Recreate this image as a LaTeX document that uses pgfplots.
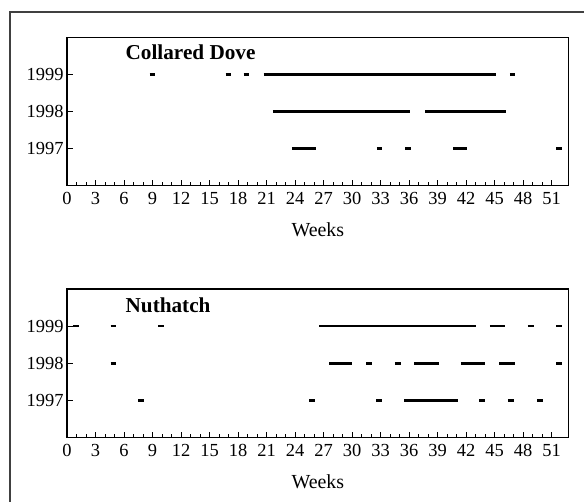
\documentclass[border=0pt]{standalone}
\usepackage{pgfplots}
\pgfplotsset{compat=1.18}
\usepackage{fontspec}
\setmainfont{Liberation Serif}

% one axis per species, weeks across, years up
\pgfplotsset{
  birdaxis/.style={
    scale only axis, width=501.7bp, height=148.5bp,
    xmin=0, xmax=52.8, ymin=1996, ymax=2000,
    xtick={0,3,...,51}, minor x tick num=2,
    ytick={1997,1998,1999},
    tick pos=left, tick align=inside,
    major tick length=6bp, minor tick length=3.5bp,
    axis line style={line width=1.1bp},
    tick style={black, line width=0.8bp},
    minor tick style={black, line width=0.8bp},
    ticklabel style={font=\fontsize{18.5}{20}\selectfont},
    xticklabel style={yshift=-3bp},
    /pgf/number format/1000 sep={},
    /pgf/number format/assume math mode=true,
    xlabel=Weeks,
    xlabel style={font=\fontsize{20}{22}\selectfont, at={(axis description cs:0.5,0)}, anchor=center, yshift=-44bp},
    unbounded coords=jump,
  },
  seg/.style={black, line width=2.6bp, line cap=butt, no markers},
}
\tikzset{ttl/.style={anchor=west, font=\fontsize{21.3}{23}\selectfont\bfseries}}

\begin{document}
\begin{tikzpicture}
\useasboundingbox (0,0) rectangle (584bp,-502bp);
\draw[line width=1.4bp, black!75] (584bp,-12bp) -- (10bp,-12bp) -- (10bp,-502bp);

\begin{axis}[birdaxis, at={(67bp,-37.3bp)}, anchor=north west]
\addplot[seg] coordinates {(8.7,1999)(9.3,1999) (nan,nan) (16.7,1999)(17.3,1999) (nan,nan)
  (18.6,1999)(19.2,1999) (nan,nan) (20.7,1999)(45.1,1999) (nan,nan) (46.6,1999)(47.2,1999)};
\addplot[seg] coordinates {(21.66,1998)(36.1,1998) (nan,nan) (37.7,1998)(46.2,1998)};
\addplot[seg] coordinates {(23.66,1997)(26.2,1997) (nan,nan) (32.6,1997)(33.2,1997) (nan,nan)
  (35.6,1997)(36.2,1997) (nan,nan) (40.65,1997)(42.1,1997) (nan,nan) (51.5,1997)(52.1,1997)};
\node[ttl] at (axis cs:5.8,1999.6) {Collared Dove};
\end{axis}

\begin{axis}[birdaxis, at={(67bp,-289bp)}, anchor=north west]
\addplot[seg] coordinates {(0.63,1999)(1.22,1999) (nan,nan) (4.6,1999)(5.2,1999) (nan,nan)
  (9.6,1999)(10.2,1999) (nan,nan) (26.56,1999)(43.0,1999) (nan,nan) (44.5,1999)(46.1,1999) (nan,nan)
  (48.5,1999)(49.1,1999) (nan,nan) (51.5,1999)(52.1,1999)};
\addplot[seg] coordinates {(4.6,1998)(5.2,1998) (nan,nan) (27.6,1998)(30.0,1998) (nan,nan)
  (31.5,1998)(32.1,1998) (nan,nan) (34.5,1998)(35.1,1998) (nan,nan) (36.55,1998)(39.1,1998) (nan,nan)
  (41.46,1998)(44.0,1998) (nan,nan) (45.5,1998)(47.1,1998) (nan,nan) (51.5,1998)(52.1,1998)};
\addplot[seg] coordinates {(7.5,1997)(8.1,1997) (nan,nan) (25.5,1997)(26.1,1997) (nan,nan)
  (32.55,1997)(33.15,1997) (nan,nan) (35.5,1997)(41.1,1997) (nan,nan) (43.4,1997)(44.0,1997) (nan,nan)
  (46.4,1997)(47.0,1997) (nan,nan) (49.5,1997)(50.1,1997)};
\node[ttl] at (axis cs:5.8,1999.57) {Nuthatch};
\end{axis}
\end{tikzpicture}
\end{document}
